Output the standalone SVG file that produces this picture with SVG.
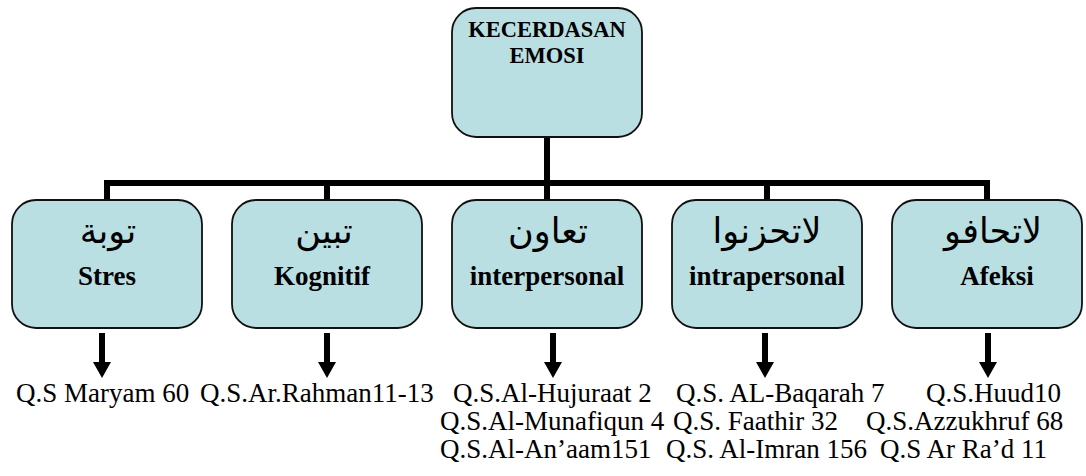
<svg xmlns="http://www.w3.org/2000/svg" width="1086" height="476" viewBox="0 0 1086 476">
<style>
.box{fill:#b9dfe3;stroke:#111;stroke-width:1.8}
.conn{stroke:#000;stroke-width:6;fill:none}
.ttl{font-family:"Liberation Serif",serif;font-weight:bold;font-size:22.5px;fill:#000;text-anchor:middle}
.ar{font-family:"DejaVu Sans",sans-serif;font-size:35px;fill:#000;text-anchor:middle}
.lb{font-family:"Liberation Serif",serif;font-weight:bold;font-size:27px;fill:#000;text-anchor:middle}
.ref{font-family:"Liberation Serif",serif;font-size:27px;fill:#000}
</style>
<defs>
<marker id="ah" markerUnits="userSpaceOnUse" markerWidth="16" markerHeight="18" refX="0" refY="9" orient="auto">
<path d="M0,0 L16,9 L0,18 Z" fill="#000"/>
</marker>
</defs>
<g id="connectors">
<path class="conn" d="M547,137 V200 M104,183 H990 M107,180 V200 M327,180 V200 M767,180 V200 M987,180 V200"/>
<line class="conn" x1="102" y1="333" x2="102" y2="362" marker-end="url(#ah)"/>
<line class="conn" x1="327" y1="333" x2="327" y2="362" marker-end="url(#ah)"/>
<line class="conn" x1="553" y1="333" x2="553" y2="362" marker-end="url(#ah)"/>
<line class="conn" x1="765" y1="333" x2="765" y2="362" marker-end="url(#ah)"/>
<line class="conn" x1="988" y1="333" x2="988" y2="362" marker-end="url(#ah)"/>
</g>
<g id="root">
<rect class="box" x="452" y="8" width="190" height="129" rx="24"/>
<text class="ttl" x="547" y="37">KECERDASAN</text>
<text class="ttl" x="547" y="63">EMOSI</text>
</g>
<g id="stres">
<rect class="box" x="12" y="200" width="190" height="128" rx="24"/>
<text class="ar" x="108" y="243">توبة</text>
<text class="lb" x="107" y="285">Stres</text>
</g>
<g id="kognitif">
<rect class="box" x="232" y="200" width="190" height="128" rx="24"/>
<text class="ar" x="324" y="243">تبين</text>
<text class="lb" x="322" y="285">Kognitif</text>
</g>
<g id="interpersonal">
<rect class="box" x="452" y="200" width="190" height="128" rx="24"/>
<text class="ar" x="548" y="243">تعاون</text>
<text class="lb" x="547" y="285">interpersonal</text>
</g>
<g id="intrapersonal">
<rect class="box" x="672" y="200" width="190" height="128" rx="24"/>
<text class="ar" x="767" y="243">لاتحزنوا</text>
<text class="lb" x="767" y="285">intrapersonal</text>
</g>
<g id="afeksi">
<rect class="box" x="892" y="200" width="190" height="128" rx="24"/>
<text class="ar" x="993" y="243">لاتحافو</text>
<text class="lb" x="997" y="285">Afeksi</text>
</g>
<g id="references">
<text class="ref" x="16" y="402">Q.S Maryam 60</text>
<text class="ref" x="200" y="402">Q.S.Ar.Rahman11-13</text>
<text class="ref" x="453" y="402">Q.S.Al-Hujuraat 2</text>
<text class="ref" x="676" y="402">Q.S. AL-Baqarah 7</text>
<text class="ref" x="926" y="402">Q.S.Huud10</text>
<text class="ref" x="440" y="430">Q.S.Al-Munafiqun 4</text>
<text class="ref" x="673" y="430">Q.S. Faathir 32</text>
<text class="ref" x="866" y="430">Q.S.Azzukhruf 68</text>
<text class="ref" x="440" y="458">Q.S.Al-An’aam151</text>
<text class="ref" x="666" y="458">Q.S. Al-Imran 156</text>
<text class="ref" x="880" y="458">Q.S Ar Ra’d 11</text>
</g>
</svg>
